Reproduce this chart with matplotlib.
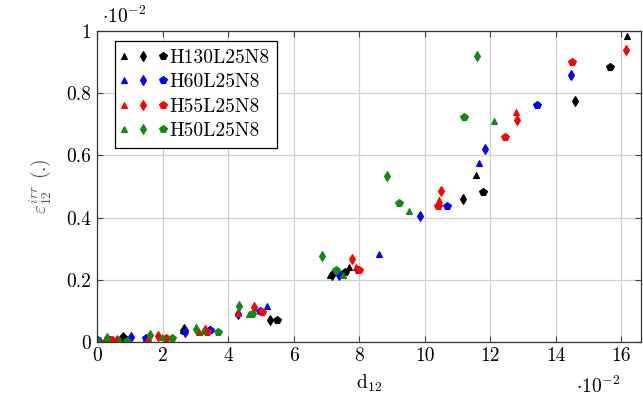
import matplotlib
matplotlib.use("Agg")
import matplotlib.pyplot as plt
from matplotlib.legend_handler import HandlerTuple

plt.rcParams['font.family'] = 'cmr10'
plt.rcParams['mathtext.fontset'] = 'cm'
plt.rcParams['axes.unicode_minus'] = False

# values (x in 1e-2 units)
names = ['H130L25N8', 'H60L25N8', 'H55L25N8', 'H50L25N8']
colors = ['black', '#0000ff', '#ff0000', '#108a10']

tri_x = [[0.72, 2.62, 7.11, 7.69, 11.58, 16.18],
         [0.10, 1.50, 3.42, 5.20, 8.60, 11.65],
         [0.24, 1.55, 3.10, 4.29, 7.91, 10.43, 12.78],
         [0.68, 1.99, 3.22, 4.63, 7.52, 9.51, 12.12]]
tri_y = [[0.016, 0.038, 0.216, 0.241, 0.536, 0.983],
         [0.006, 0.014, 0.041, 0.115, 0.282, 0.574],
         [0.009, 0.012, 0.033, 0.094, 0.241, 0.458, 0.738],
         [0.009, 0.017, 0.034, 0.090, 0.214, 0.420, 0.710]]

dia_x = [[0.78, 2.66, 5.28, 7.17, 11.18, 14.60],
         [0.02, 1.04, 2.68, 4.29, 7.37, 9.87, 11.84, 14.47],
         [0.60, 1.85, 3.30, 4.79, 7.78, 10.51, 12.83, 16.13],
         [0.31, 1.62, 3.02, 4.34, 6.86, 8.85, 11.60]]
dia_y = [[0.017, 0.041, 0.070, 0.214, 0.460, 0.776],
         [0.004, 0.015, 0.032, 0.090, 0.216, 0.406, 0.622, 0.858],
         [0.008, 0.020, 0.037, 0.113, 0.268, 0.486, 0.714, 0.940],
         [0.012, 0.024, 0.043, 0.116, 0.276, 0.533, 0.920]]

pen_x = [[0.82, 2.64, 5.50, 7.57, 11.79, 15.65],
         [0.40, 1.50, 3.45, 4.96, 7.97, 10.68, 13.44],
         [0.45, 2.10, 3.35, 5.03, 7.98, 10.40, 12.46, 14.48],
         [0.01, 0.93, 2.28, 3.70, 4.73, 7.29, 9.22, 11.20]]
pen_y = [[0.013, 0.036, 0.070, 0.224, 0.481, 0.885],
         [0.008, 0.014, 0.037, 0.100, 0.232, 0.438, 0.763],
         [0.005, 0.012, 0.032, 0.095, 0.230, 0.436, 0.659, 0.899],
         [0.004, 0.004, 0.013, 0.031, 0.090, 0.230, 0.446, 0.723]]

xticks = [0, 2, 4, 6, 8, 10, 12, 14, 16]
yticks = [0, 0.2, 0.4, 0.6, 0.8, 1]
ytick_labels = ['0', '0.2', '0.4', '0.6', '0.8', '1']

fig = plt.figure(figsize=(6.43, 4.05), dpi=100)
ax = fig.add_axes([97/643, 63/405, 544/643, 311/405])

handles = []
for i in range(4):
    c = colors[i]
    h1, = ax.plot(tri_x[i], tri_y[i], ls='none', marker='^', ms=5, mew=0.8, color=c, mec=c)
    h2, = ax.plot(dia_x[i], dia_y[i], ls='none', marker='d', ms=5.5, mew=0.8, color=c, mec=c)
    h3, = ax.plot(pen_x[i], pen_y[i], ls='none', marker='p', ms=5.5, mew=0.8, color=c, mec=c)
    handles.append((h1, h2, h3))

ax.set_xlim(0, 16.6)
ax.set_ylim(0, 1)
ax.set_xticks(xticks)
ax.set_xticklabels([str(t) for t in xticks])
ax.set_yticks(yticks)
ax.set_yticklabels(ytick_labels)
ax.grid(True, color='#d0d0d0', lw=0.9)
ax.set_axisbelow(True)
ax.tick_params(direction='in', top=True, right=True, length=4, labelsize=14, color='#444444', pad=4)
for s in ax.spines.values():
    s.set_linewidth(0.9)
    s.set_color('#333333')

ax.set_xlabel(r'd$_{12}$', fontsize=14, labelpad=5)
ax.set_ylabel(r'$\varepsilon_{12}^{irr}$ (.)', fontsize=14, color='#555555', labelpad=10)

fig.text(102/643, 1 - 16/405, r'$\cdot10^{-2}$', fontsize=14, va='center', ha='left')
fig.text(620/643, 1 - 386/405, r'$\cdot10^{-2}$', fontsize=14, va='center', ha='right')

leg = ax.legend(handles, names, handler_map={tuple: HandlerTuple(ndivide=None, pad=0.9)},
                loc='upper left', bbox_to_anchor=(0.033, 0.968), borderaxespad=0,
                fontsize=14, handlelength=2.1, handletextpad=0.3, labelspacing=0.34,
                borderpad=0.4, fancybox=False, framealpha=1, edgecolor='black')
leg.get_frame().set_linewidth(0.9)

fig.savefig('out.png', dpi=100)
